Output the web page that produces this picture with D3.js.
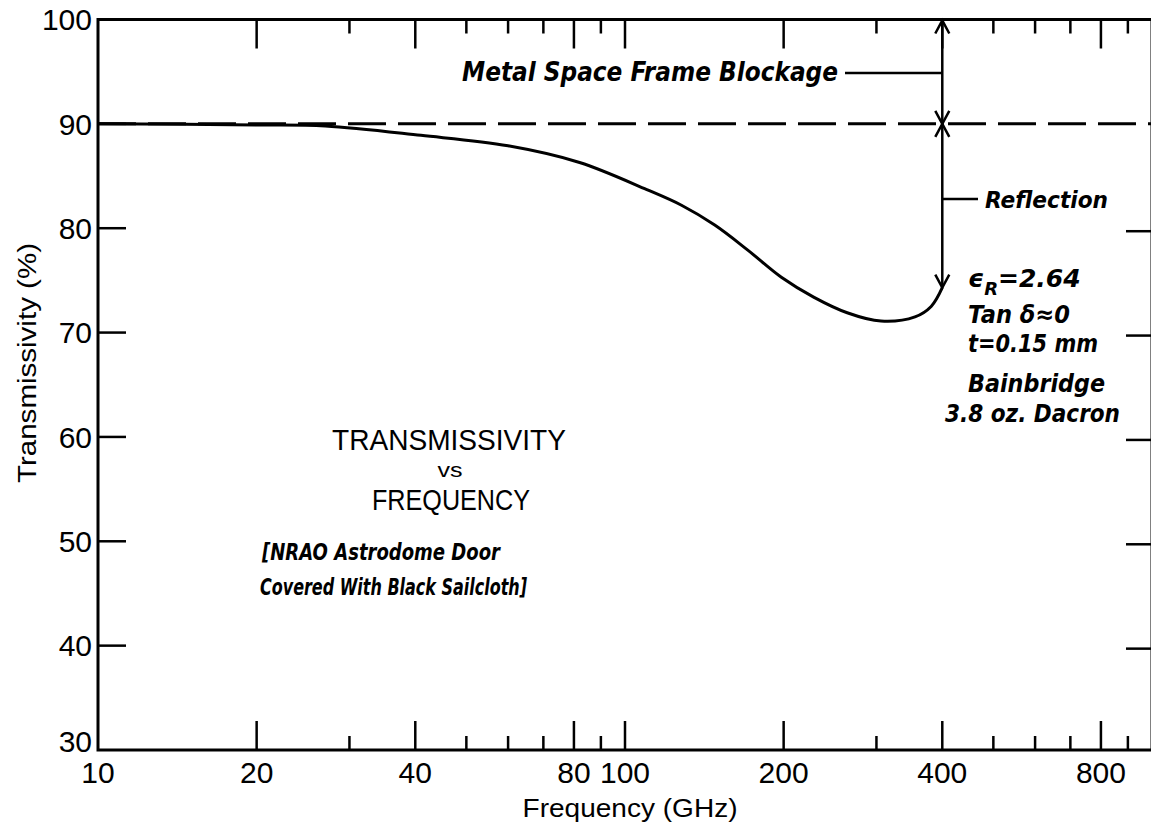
<!DOCTYPE html>
<html>
<head>
<meta charset="utf-8">
<script src="https://cdn.jsdelivr.net/npm/d3@7"></script>
<style>
  body { margin: 0; background: #fff; }
  svg { display: block; }
  text { fill: #000; font-family: "Liberation Sans", "DejaVu Sans", sans-serif; }
  .ital { font-family: "DejaVu Sans", sans-serif; font-style: italic; font-weight: bold; }
</style>
</head>
<body>
<div id="chart"></div>
<script>
var svgWidth = 1151;
var svgHeight = 828;

// transmissivity curve
var freqs = [10, 20, 27, 41, 60, 82, 110, 128, 148, 171, 198, 228, 264, 306, 355, 381, 400];
var trans = [90.0, 89.9, 89.8, 88.9, 87.9, 86.3, 83.7, 82.2, 80.3, 77.9, 75.3, 73.4, 71.9, 71.1, 71.5, 72.5, 74.3];

// axis ticks
var yTicks = [30, 40, 50, 60, 70, 80, 90, 100];
var xLabels = [10, 20, 40, 80, 100, 200, 400, 800];
var xMajor = [20, 40, 80, 100, 200, 400, 800];
var xMinor = [30, 50, 60, 70, 90, 300, 500, 600, 700, 900];
var yRightTicks = [40, 50, 60, 70, 80];

// reference level and annotation values
var lossless = 90;
var blockageTop = 100;
var markFreq = 400;
var reflectionEnd = 74.3;

var svg = d3.select("#chart")
  .append("svg")
  .attr("width", svgWidth)
  .attr("height", svgHeight);

svg.append("rect").attr("width", svgWidth).attr("height", svgHeight).attr("fill", "#fff");

var x = d3.scaleLog().domain([10, 1000]).range([98, 1152]);
var y = d3.scaleLinear().domain([30, 100]).range([750, 19.5]);

var ink = "#000";

// frame
svg.append("rect")
  .attr("x", x(10)).attr("y", y(100))
  .attr("width", x(1000) - x(10)).attr("height", y(30) - y(100))
  .attr("fill", "none").attr("stroke", ink).attr("stroke-width", 3);

// x ticks, bottom (up) and top (down)
function xTicks(list, len) {
  svg.append("g").selectAll("line.b")
    .data(list).enter().append("line")
    .attr("x1", d => x(d)).attr("x2", d => x(d))
    .attr("y1", y(30)).attr("y2", y(30) - len)
    .attr("stroke", ink).attr("stroke-width", 2.5);
  svg.append("g").selectAll("line.t")
    .data(list).enter().append("line")
    .attr("x1", d => x(d)).attr("x2", d => x(d))
    .attr("y1", y(100)).attr("y2", y(100) + len)
    .attr("stroke", ink).attr("stroke-width", 2.5);
}
xTicks(xMajor, 29);
xTicks(xMinor, 14);

// y ticks, left side
svg.append("g").selectAll("line")
  .data(yTicks.slice(1, -1)).enter().append("line")
  .attr("x1", x(10)).attr("x2", x(10) + 28)
  .attr("y1", d => y(d)).attr("y2", d => y(d))
  .attr("stroke", ink).attr("stroke-width", 2.5);

// y ticks, right side
svg.append("g").selectAll("line")
  .data(yRightTicks).enter().append("line")
  .attr("x1", x(1000)).attr("x2", x(1000) - 26)
  .attr("y1", d => y(d) + 3).attr("y2", d => y(d) + 3)
  .attr("stroke", ink).attr("stroke-width", 2.5);

// tick labels
svg.append("g").selectAll("text")
  .data(yTicks).enter().append("text")
  .attr("x", 92)
  .attr("y", d => y(d) + (d === 30 ? -9 : 0))
  .attr("dy", "0.36em")
  .attr("text-anchor", "end")
  .attr("font-size", 30)
  .text(d => d);

svg.append("g").selectAll("text")
  .data(xLabels).enter().append("text")
  .attr("x", d => x(d))
  .attr("y", y(30) + 33)
  .attr("text-anchor", "middle")
  .attr("font-size", 30)
  .text(d => d);

// axis titles
svg.append("text")
  .attr("x", 630).attr("y", 817)
  .attr("text-anchor", "middle")
  .attr("font-size", 26)
  .attr("textLength", 215).attr("lengthAdjust", "spacingAndGlyphs")
  .text("Frequency (GHz)");

svg.append("text")
  .attr("transform", "translate(36,363) rotate(-90)")
  .attr("text-anchor", "middle")
  .attr("font-size", 25)
  .attr("textLength", 240).attr("lengthAdjust", "spacingAndGlyphs")
  .text("Transmissivity (%)");

// dashed 90% reference
svg.append("line")
  .attr("x1", x(10)).attr("x2", x(1000))
  .attr("y1", y(lossless)).attr("y2", y(lossless))
  .attr("stroke", ink).attr("stroke-width", 3)
  .attr("stroke-dasharray", "38,12");

// curve
var line = d3.line()
  .x((d, i) => x(freqs[i]))
  .y(d => y(d))
  .curve(d3.curveCatmullRom.alpha(0.5));

svg.append("path")
  .datum(trans)
  .attr("d", line)
  .attr("fill", "none")
  .attr("stroke", ink)
  .attr("stroke-width", 3);

// annotation arrows at 400 GHz
var ax = x(markFreq);
svg.append("line")
  .attr("x1", ax).attr("x2", ax)
  .attr("y1", y(blockageTop)).attr("y2", y(reflectionEnd))
  .attr("stroke", ink).attr("stroke-width", 2.5);

function head(py, dir) {
  // dir 1 = pointing down, -1 = pointing up
  svg.append("path")
    .attr("d", `M${ax - 7},${py - dir * 13}L${ax},${py}L${ax + 7},${py - dir * 13}`)
    .attr("fill", "none").attr("stroke", ink).attr("stroke-width", 2.5);
}
head(y(blockageTop) + 1, -1);
head(y(lossless), 1);
head(y(lossless), -1);
head(y(reflectionEnd), 1);

// leaders
svg.append("path")
  .attr("d", `M845,73H${ax}`)
  .attr("fill", "none").attr("stroke", ink).attr("stroke-width", 2.5);
svg.append("path")
  .attr("d", `M${ax},199H978`)
  .attr("fill", "none").attr("stroke", ink).attr("stroke-width", 2.5);

// labels
function lab(t, px, py, size, len, cls, anchor) {
  var el = svg.append("text")
    .attr("x", px).attr("y", py)
    .attr("font-size", size)
    .attr("text-anchor", anchor || "start")
    .text(t);
  if (cls) el.attr("class", cls);
  if (len) el.attr("textLength", len).attr("lengthAdjust", "spacingAndGlyphs");
  return el;
}

lab("Metal Space Frame Blockage", 462, 81, 26, 376, "ital");
lab("Reflection", 985, 208, 23, 123, "ital");

var eps = svg.append("text").attr("class", "ital").attr("x", 968).attr("y", 287).attr("font-size", 25);
eps.append("tspan").text("\u03f5");
eps.append("tspan").attr("font-size", 18).attr("dy", 8).text("R");
eps.append("tspan").attr("dy", -8).text("=2.64");

lab("Tan \u03b4\u22480", 968, 323, 25, 102, "ital");
lab("t=0.15 mm", 968, 352, 25, 130, "ital");
lab("Bainbridge", 968, 392, 25, 137, "ital");
lab("3.8 oz. Dacron", 945, 422, 25, 175, "ital");

lab("TRANSMISSIVITY", 449, 450, 29, 234, null, "middle");
lab("vs", 450, 477, 20, 25, null, "middle");
lab("FREQUENCY", 451, 510, 29, 158, null, "middle");

lab("[NRAO Astrodome Door", 262, 560, 23, 238, "ital");
lab("Covered With Black Sailcloth]", 260, 595, 23, 267, "ital");
</script>
</body>
</html>
